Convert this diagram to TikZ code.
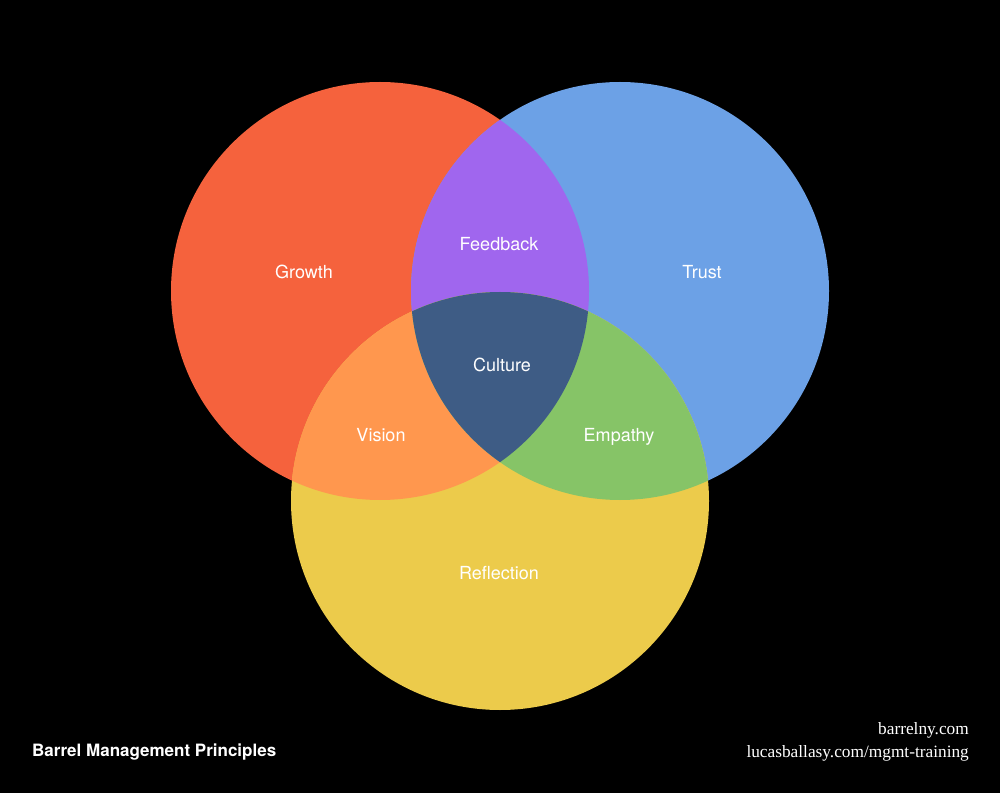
\documentclass[tikz,border=0pt]{standalone}
\usepackage{fontspec}
\setmainfont{TeX Gyre Heros}
\newfontfamily\urlfont{Liberation Serif}
\definecolor{cred}{HTML}{F5623D}
\definecolor{cblue}{HTML}{6CA1E6}
\definecolor{cyellow}{HTML}{ECCB4B}
\definecolor{cpurple}{HTML}{A066EE}
\definecolor{corange}{HTML}{FF974E}
\definecolor{cgreen}{HTML}{86C467}
\definecolor{cculture}{HTML}{3E5C85}
\tikzset{
  lbl/.style={text=white, font=\fontsize{18}{21}\selectfont, inner sep=0pt},
  foot/.style={text=white, inner sep=0pt},
}
\begin{document}
\begin{tikzpicture}[x=1pt,y=1pt]
\fill[black] (0,0) rectangle (1000,793);
\useasboundingbox (0,0) rectangle (1000,793);
\def\R{209}
\coordinate (cr) at (380,502);
\coordinate (cb) at (620,502);
\coordinate (cy) at (500,292);
% base circles
\fill[cred] (cr) circle (\R);
\fill[cblue] (cb) circle (\R);
\fill[cyellow] (cy) circle (\R);
% pairwise intersections
\begin{scope}
  \clip (cr) circle (\R);
  \fill[cpurple] (cb) circle (\R);
\end{scope}
\begin{scope}
  \clip (cr) circle (\R);
  \fill[corange] (cy) circle (\R);
\end{scope}
\begin{scope}
  \clip (cb) circle (\R);
  \fill[cgreen] (cy) circle (\R);
\end{scope}
% triple intersection
\begin{scope}
  \clip (cr) circle (\R);
  \clip (cb) circle (\R);
  \fill[cculture] (cy) circle (\R);
\end{scope}
% labels
\node[lbl] (growth) at (304,521) {Growth};
\node[lbl] (feedback) at (499,549) {Feedback};
\node[lbl] (trust) at (702,521) {Trust};
\node[lbl] (culture) at (502,428) {Culture};
\node[lbl] (vision) at (381,358) {Vision};
\node[lbl] (empathy) at (619,356) {Empathy};
\node[lbl] (reflection) at (499,220) {Reflection};
% footer
\node[foot, anchor=base west, font=\bfseries\fontsize{17}{20}\selectfont] (title) at (32,37) {Barrel Management Principles};
\node[foot, anchor=base east, font=\urlfont\fontsize{17.3}{20}\selectfont] (url1) at (969,59) {barrelny.com};
\node[foot, anchor=base east, font=\urlfont\fontsize{17.3}{20}\selectfont] (url2) at (969,36) {lucasballasy.com/mgmt-training};
\end{tikzpicture}
\end{document}
